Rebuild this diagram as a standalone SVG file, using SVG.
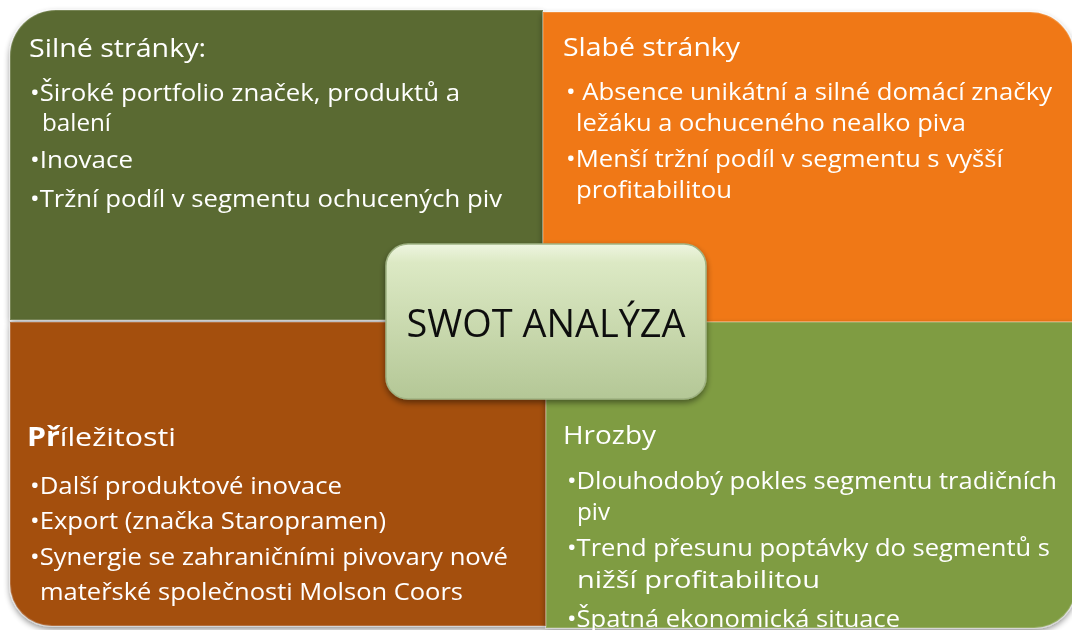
<svg xmlns="http://www.w3.org/2000/svg" width="1072" height="630" viewBox="0 0 1072 630">
  <defs>
    <linearGradient id="centerGrad" x1="0" y1="0" x2="0" y2="1">
      <stop offset="0" stop-color="#eef5e0"/>
      <stop offset="0.12" stop-color="#dce9c4"/>
      <stop offset="1" stop-color="#b4c796"/>
    </linearGradient>
    <filter id="shadow" x="-10%" y="-10%" width="120%" height="130%">
      <feGaussianBlur in="SourceAlpha" stdDeviation="3"/>
      <feOffset dx="0" dy="3"/>
      <feComponentTransfer><feFuncA type="linear" slope="0.45"/></feComponentTransfer>
      <feMerge><feMergeNode/><feMergeNode in="SourceGraphic"/></feMerge>
    </filter>
    <style>
      .quad { stroke: #ffffff; stroke-opacity: 0.18; stroke-width: 2; }
      .title { font-family: "Open Sans", "Liberation Sans", sans-serif; font-size: 26px; fill: #ffffff; }
      .item { font-family: "Open Sans", "Liberation Sans", sans-serif; font-size: 23px; fill: #ffffff; }
      .center { font-family: "Open Sans", "Liberation Sans", sans-serif; font-size: 38px; fill: #111111; }
    </style>
  </defs>
  <rect width="1072" height="630" fill="#ffffff"/>

  <g id="strengths" filter="url(#shadow)">
    <path class="quad" d="M10,56 A46,46 0 0 1 56,10 L543,10 L543,320 L10,320 Z" fill="#5a6b30"/>
    <text class="title" x="29" y="57" textLength="177" lengthAdjust="spacingAndGlyphs">Silné stránky:</text>
    <text class="item" x="30" y="101" textLength="430" lengthAdjust="spacingAndGlyphs">•Široké portfolio značek, produktů a</text>
    <text class="item" x="42" y="131" textLength="69" lengthAdjust="spacingAndGlyphs">balení</text>
    <text class="item" x="30" y="168" textLength="103" lengthAdjust="spacingAndGlyphs">•Inovace</text>
    <text class="item" x="30" y="207" textLength="472" lengthAdjust="spacingAndGlyphs">•Tržní podíl v segmentu ochucených piv</text>
  </g>

  <g id="weaknesses" filter="url(#shadow)">
    <path class="quad" d="M543,12 L1030,12 A44,44 0 0 1 1074,56 L1074,322 L543,322 Z" fill="#f07812"/>
    <text class="title" x="563" y="56" textLength="177" lengthAdjust="spacingAndGlyphs">Slabé stránky</text>
    <text class="item" x="566" y="100" textLength="486" lengthAdjust="spacingAndGlyphs">• Absence unikátní a silné domácí značky</text>
    <text class="item" x="576" y="131" textLength="390" lengthAdjust="spacingAndGlyphs">ležáku a ochuceného nealko piva</text>
    <text class="item" x="566" y="167" textLength="437" lengthAdjust="spacingAndGlyphs">•Menší tržní podíl v segmentu s vyšší</text>
    <text class="item" x="576" y="198" textLength="156" lengthAdjust="spacingAndGlyphs">profitabilitou</text>
  </g>

  <g id="opportunities" filter="url(#shadow)">
    <path class="quad" d="M10,322 L546,322 L546,626 L52,626 A42,42 0 0 1 10,584 Z" fill="#a44f10"/>
    <text class="title" x="27" y="446" textLength="149" lengthAdjust="spacingAndGlyphs"><tspan font-weight="bold">Př</tspan>íležitosti</text>
    <text class="item" x="30" y="494" textLength="312" lengthAdjust="spacingAndGlyphs">•Další produktové inovace</text>
    <text class="item" x="30" y="529" textLength="356" lengthAdjust="spacingAndGlyphs">•Export (značka Staropramen)</text>
    <text class="item" x="30" y="565" textLength="478" lengthAdjust="spacingAndGlyphs">•Synergie se zahraničními pivovary nové</text>
    <text class="item" x="40" y="600" textLength="423" lengthAdjust="spacingAndGlyphs">mateřské společnosti Molson Coors</text>
  </g>

  <g id="threats" filter="url(#shadow)">
    <path class="quad" d="M546,322 L1076,322 L1076,586 A42,42 0 0 1 1034,628 L546,628 Z" fill="#7f9c42"/>
    <text class="title" x="563" y="444" textLength="93" lengthAdjust="spacingAndGlyphs">Hrozby</text>
    <text class="item" x="567" y="489" textLength="490" lengthAdjust="spacingAndGlyphs">•Dlouhodobý pokles segmentu tradičních</text>
    <text class="item" x="577" y="520" textLength="33" lengthAdjust="spacingAndGlyphs">piv</text>
    <text class="item" x="567" y="556" textLength="483" lengthAdjust="spacingAndGlyphs">•Trend přesunu poptávky do segmentů s</text>
    <text class="item" x="577" y="588" textLength="243" lengthAdjust="spacingAndGlyphs">nižší profitabilitou</text>
    <text class="item" x="567" y="627" textLength="333" lengthAdjust="spacingAndGlyphs">•Špatná ekonomická situace</text>
  </g>

  <g id="connectors"></g>

  <g id="center" filter="url(#shadow)">
    <rect x="386" y="244" width="320" height="155" rx="22" ry="22" fill="url(#centerGrad)" stroke="#9fb283" stroke-width="1.5"/>
    <text class="center" x="546" y="337" text-anchor="middle" textLength="279" lengthAdjust="spacingAndGlyphs">SWOT ANALÝZA</text>
  </g>
</svg>
